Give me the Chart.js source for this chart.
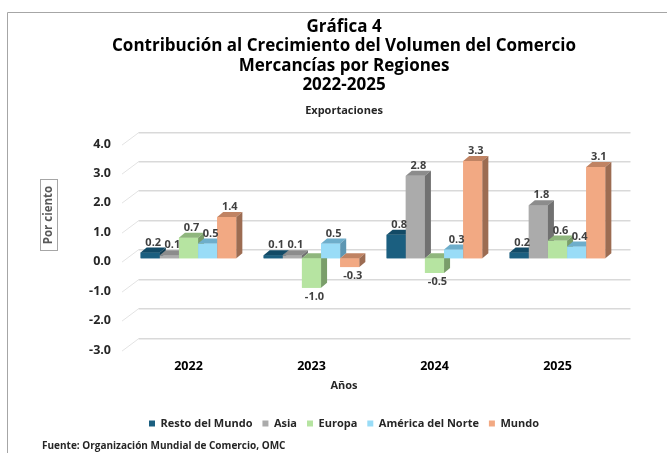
<!DOCTYPE html>
<html>
<head>
<meta charset="utf-8">
<script src="https://cdn.jsdelivr.net/npm/chart.js@4.4.1/dist/chart.umd.min.js"></script>
<style>
  html, body { margin: 0; padding: 0; background: #fff; }
  #wrap { width: 667px; height: 453px; position: relative; }
</style>
</head>
<body>
<div id="wrap"><canvas id="chart" width="667" height="453"></canvas></div>
<script>
const years = ['2022', '2023', '2024', '2025'];
const restoDelMundo = [0.2, 0.1, 0.8, 0.2];
const asia = [0.1, 0.1, 2.8, 1.8];
const europa = [0.7, -1.0, -0.5, 0.6];
const americaDelNorte = [0.5, 0.5, 0.3, 0.4];
const mundo = [1.4, -0.3, 3.3, 3.1];
const seriesNames = ['Resto del Mundo', 'Asia', 'Europa', 'América del Norte', 'Mundo'];
const yMin = -3, yMax = 4, yStep = 1;

// front / top / side colours per series
const fronts = ['#1b5f80', '#ababab', '#b6e4a1', '#99dcf7', '#f2a983'];
const tops   = ['#124a66', '#8c8c8c', '#8fb67d', '#6eaecb', '#c08363'];
const sides  = ['#0e3d54', '#717171', '#7a9e6a', '#5e97b3', '#9c6c52'];

const FONT = "'Open Sans', sans-serif";
const DX = 6, DY = 5;              // bar depth
const BACK = {dx: 11.5, dy: -8.7}; // back wall offset from bar plane
const FRONT = {dx: -5, dy: 3.6};   // front edge offset

const grid3d = {
  id: 'grid3d',
  beforeDatasetsDraw(chart) {
    const {ctx, chartArea: a, scales: {y}} = chart;
    ctx.save();
    for (let v = yMin; v <= yMax; v += yStep) {
      const py = Math.round(y.getPixelForValue(v)) + 0.5;
      ctx.strokeStyle = '#e3e3e3';
      ctx.lineWidth = 1;
      ctx.beginPath();
      ctx.moveTo(a.left + FRONT.dx, py + FRONT.dy);
      ctx.lineTo(a.left + BACK.dx, py + BACK.dy);
      ctx.stroke();
      ctx.strokeStyle = '#d9d9d9';
      ctx.lineWidth = 1.5;
      ctx.beginPath();
      ctx.moveTo(a.left + BACK.dx, py + BACK.dy);
      ctx.lineTo(a.right + BACK.dx, py + BACK.dy);
      ctx.stroke();
    }
    ctx.restore();
  }
};

const bars3d = {
  id: 'bars3d',
  afterDatasetsDraw(chart) {
    const ctx = chart.ctx;
    ctx.save();
    // left to right so each front face hides the previous bar's side
    for (let i = 0; i < years.length; i++) {
      chart.data.datasets.forEach((ds, d) => {
        const el = chart.getDatasetMeta(d).data[i];
        const l = el.x - el.width / 2, r = el.x + el.width / 2;
        const t = Math.min(el.y, el.base), b = Math.max(el.y, el.base);
        ctx.fillStyle = fronts[d];
        ctx.fillRect(l, t, r - l, b - t);
        ctx.fillStyle = tops[d];
        ctx.beginPath();
        ctx.moveTo(l, t); ctx.lineTo(l + DX, t - DY); ctx.lineTo(r + DX, t - DY); ctx.lineTo(r, t);
        ctx.closePath(); ctx.fill();
        ctx.fillStyle = sides[d];
        ctx.beginPath();
        ctx.moveTo(r, t); ctx.lineTo(r + DX, t - DY); ctx.lineTo(r + DX, b - DY); ctx.lineTo(r, b);
        ctx.closePath(); ctx.fill();
      });
    }
    // value labels
    ctx.font = 'bold 11px ' + FONT;
    ctx.fillStyle = '#404040';
    ctx.textAlign = 'center';
    ctx.textBaseline = 'middle';
    chart.data.datasets.forEach((ds, d) => {
      chart.getDatasetMeta(d).data.forEach((el, i) => {
        const v = ds.data[i];
        const py = v >= 0 ? el.y - 10 : el.y + 9;
        ctx.fillText(v.toFixed(1), el.x + 3, py);
      });
    });
    ctx.restore();
  }
};

const decor = {
  id: 'decor',
  afterDraw(chart) {
    const ctx = chart.ctx;
    ctx.save();
    // frame
    ctx.strokeStyle = '#a6a6a6';
    ctx.lineWidth = 1;
    ctx.beginPath();
    ctx.moveTo(7.5, 453); ctx.lineTo(7.5, 12.5); ctx.lineTo(667, 12.5);
    ctx.stroke();
    // x axis title
    ctx.font = 'bold 11px ' + FONT;
    ctx.fillStyle = '#262626';
    ctx.textAlign = 'center';
    ctx.textBaseline = 'middle';
    ctx.fillText('Años', 344, 386);
    // y axis title in a box
    ctx.translate(49, 215);
    ctx.rotate(-Math.PI / 2);
    ctx.font = 'bold 11.5px ' + FONT;
    ctx.fillStyle = '#595959';
    ctx.fillText('Por ciento', 0, 0);
    ctx.strokeStyle = '#a6a6a6';
    ctx.strokeRect(-35.5, -8.5, 71, 17);
    ctx.restore();
    // source
    ctx.save();
    ctx.font = 'bold 10px ' + FONT;
    ctx.fillStyle = '#262626';
    ctx.textBaseline = 'middle';
    ctx.fillText('Fuente: Organización Mundial de Comercio, OMC', 42, 446);
    ctx.restore();
  }
};

const seriesData = [restoDelMundo, asia, europa, americaDelNorte, mundo];

new Chart(document.getElementById('chart'), {
  type: 'bar',
  data: {
    labels: years,
    datasets: seriesData.map((vals, d) => ({
      label: seriesNames[d],
      data: vals,
      backgroundColor: fronts[d],
      borderWidth: 0,
      barPercentage: 1,
      categoryPercentage: 0.778
    }))
  },
  options: {
    responsive: false,
    animation: false,
    layout: {padding: {left: 69, right: 48, top: 0, bottom: 14}},
    plugins: {
      title: {
        display: true,
        text: ['Gráfica 4', 'Contribución al Crecimiento del Volumen del Comercio', 'Mercancías por Regiones', '2022-2025'],
        color: '#000',
        font: {family: FONT, size: 17, weight: 'bold', lineHeight: 1.15},
        padding: {top: 17, bottom: 6}
      },
      subtitle: {
        display: true,
        text: 'Exportaciones',
        color: '#262626',
        font: {family: FONT, size: 11, weight: 'bold', lineHeight: 1.2},
        padding: {top: 3, bottom: 23.1}
      },
      legend: {
        position: 'bottom',
        labels: {
          boxWidth: 6, boxHeight: 6,
          color: '#262626',
          font: {family: FONT, size: 11, weight: 'bold'},
          padding: 10
        }
      },
      tooltip: {enabled: false}
    },
    scales: {
      x: {
        grid: {display: false, drawTicks: false},
        border: {display: false},
        afterFit(s) { s.height = 61.4; },
        ticks: {color: '#000', font: {family: FONT, size: 12.5, weight: 'bold'}, padding: 12}
      },
      y: {
        min: yMin, max: yMax,
        grid: {display: false, drawTicks: false},
        border: {display: false},
        afterFit(s) { s.width = 58; },
        ticks: {
          stepSize: yStep,
          color: '#262626',
          font: {family: FONT, size: 12.5, weight: 'bold'},
          padding: 16,
          labelOffset: 3.5,
          callback: v => Number(v).toFixed(1)
        }
      }
    }
  },
  plugins: [grid3d, bars3d, decor]
});
</script>
</body>
</html>
